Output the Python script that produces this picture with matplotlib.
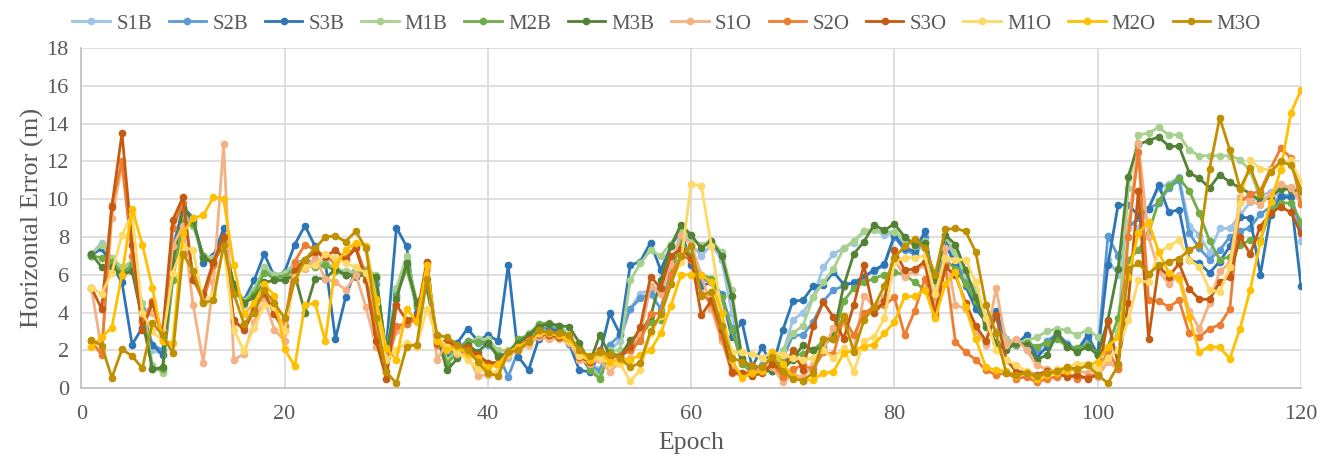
import numpy as np
import matplotlib
matplotlib.use("Agg")
import matplotlib.pyplot as plt

plt.rcParams['font.family'] = ['Liberation Serif', 'DejaVu Serif']

epochs = np.arange(1, 121)

s1b = [7.1, 7.7, 6.8, 6.2, 6.6, 4.0, 2.0, 1.8, 7.6, 9.3,
       8.6, 7.0, 6.9, 7.6, 5.3, 4.4, 5.0, 6.2, 5.9, 5.9,
       6.5, 6.6, 6.7, 6.6, 6.3, 6.1, 6.2, 6.2, 5.8, 1.9,
       5.2, 6.8, 4.4, 5.5, 2.8, 1.8, 2.0, 2.4, 2.6, 2.5,
       1.9, 1.6, 2.3, 2.8, 3.2, 3.3, 3.2, 2.6, 1.8, 1.3,
       1.0, 2.0, 2.5, 4.2, 5.0, 5.2, 5.4, 6.4, 8.3, 7.6,
       7.0, 7.6, 6.8, 4.0, 1.5, 1.1, 1.0, 0.9, 1.8, 3.6,
       4.0, 4.8, 6.4, 7.1, 7.4, 7.7, 8.3, 8.4, 8.1, 8.2,
       7.6, 7.0, 7.8, 4.4, 7.9, 7.0, 5.8, 4.8, 3.8, 3.7,
       2.4, 2.4, 2.3, 2.1, 2.5, 2.9, 2.4, 2.0, 2.6, 1.8,
       6.8, 6.0, 8.8, 8.5, 9.5, 10.6, 10.8, 11.2, 8.6, 8.1,
       7.15, 8.45, 8.45, 9.15, 9.85, 10.15, 10.4, 10.15, 10.1, 7.8]

s2b = [7.0, 7.4, 6.6, 6.0, 6.4, 4.2, 2.3, 2.0, 7.0, 9.5,
       8.8, 7.0, 6.8, 8.0, 5.3, 4.6, 5.2, 6.3, 6.0, 6.0,
       6.6, 6.8, 6.6, 6.6, 6.3, 6.0, 6.2, 6.1, 5.5, 2.0,
       5.0, 6.5, 4.3, 5.3, 2.6, 1.7, 2.1, 2.5, 2.4, 2.3,
       1.8, 0.6, 2.0, 2.7, 3.1, 3.2, 3.1, 2.5, 1.6, 1.2,
       0.9, 2.3, 2.8, 4.2, 4.75, 5.0, 4.2, 6.2, 7.8, 6.7,
       5.8, 5.6, 5.0, 3.2, 1.4, 1.0, 1.2, 0.9, 1.5, 2.8,
       2.8, 3.5, 4.6, 5.2, 5.4, 5.6, 5.9, 6.2, 6.5, 8.0,
       7.3, 7.1, 8.0, 4.9, 7.5, 6.8, 5.6, 4.5, 3.4, 3.9,
       2.5, 2.3, 2.4, 2.0, 2.5, 2.8, 2.3, 2.0, 2.7, 1.8,
       8.05, 7.0, 8.5, 9.0, 9.5, 9.8, 10.6, 11.0, 8.2, 7.4,
       6.8, 7.3, 8.0, 8.3, 8.5, 9.2, 9.6, 10.2, 10.2, 8.4]

s3b = [7.1, 7.4, 6.5, 5.6, 2.3, 3.2, 2.3, 1.75, 7.3, 9.6,
       9.0, 6.6, 7.0, 8.45, 5.2, 4.65, 5.7, 7.1, 5.9, 6.15,
       7.6, 8.6, 7.5, 6.7, 2.6, 4.8, 6.3, 6.0, 4.5, 2.1,
       8.5, 7.5, 4.0, 5.5, 2.5, 1.75, 2.4, 3.15, 2.5, 2.8,
       2.5, 6.5, 1.65, 0.95, 2.6, 3.1, 3.0, 2.35, 0.95, 0.86,
       1.75, 3.95, 2.85, 6.5, 6.7, 7.7, 6.25, 7.5, 8.4, 6.5,
       5.4, 5.6, 4.9, 2.7, 3.5, 1.1, 2.2, 1.1, 3.05, 4.6,
       4.65, 5.4, 5.45, 6.15, 5.5, 5.55, 5.9, 6.25, 6.55, 8.1,
       7.4, 7.25, 8.3, 5.0, 7.65, 6.5, 5.4, 4.2, 3.5, 4.1,
       2.6, 2.35, 2.8, 1.6, 2.2, 2.9, 2.3, 2.0, 2.8, 1.75,
       6.5, 9.7, 9.7, 9.15, 9.5, 10.75, 9.3, 9.45, 6.8, 6.6,
       6.1, 6.7, 7.5, 9.05, 9.0, 6.0, 9.15, 10.1, 10.1, 5.4]

m1b = [7.1, 7.6, 6.9, 6.4, 6.7, 4.5, 1.2, 0.8, 6.0, 9.0,
       8.6, 7.0, 6.9, 7.8, 5.5, 4.6, 5.2, 6.4, 6.0, 6.1,
       6.6, 6.7, 6.5, 6.7, 6.3, 6.2, 6.1, 6.3, 6.0, 1.8,
       5.3, 7.0, 4.6, 5.2, 2.8, 1.5, 2.0, 2.4, 2.6, 2.6,
       2.0, 2.0, 2.4, 2.9, 3.3, 3.4, 3.3, 2.8, 2.0, 1.2,
       0.6, 2.0, 2.0, 5.7, 6.6, 7.3, 7.0, 7.65, 8.5, 7.9,
       7.6, 7.8, 7.2, 5.2, 1.5, 1.0, 0.9, 1.1, 2.0, 2.9,
       3.3, 4.8, 5.6, 6.3, 7.4, 7.8, 8.3, 8.35, 8.3, 8.25,
       7.9, 7.5, 7.8, 5.5, 8.0, 7.2, 6.0, 5.2, 3.8, 3.0,
       2.6, 2.4, 2.5, 2.7, 3.0, 3.15, 3.05, 2.8, 3.1, 2.7,
       2.0, 3.0, 10.6, 13.4, 13.5, 13.8, 13.4, 13.4, 12.6, 12.3,
       12.3, 12.3, 12.3, 12.1, 11.5, 10.0, 10.15, 10.7, 10.65, 9.9]

m2b = [7.0, 6.9, 6.7, 6.1, 6.5, 4.0, 1.0, 1.0, 5.7, 8.8,
       8.7, 7.0, 6.6, 7.9, 5.4, 4.5, 5.0, 6.1, 5.8, 5.9,
       6.3, 6.5, 6.4, 6.5, 6.2, 6.0, 6.0, 6.2, 5.9, 1.7,
       4.9, 6.3, 4.4, 5.3, 2.7, 1.3, 1.9, 2.5, 2.45, 2.4,
       1.75, 1.8, 2.6, 2.8, 3.4, 3.45, 3.3, 2.6, 1.8, 0.95,
       0.5, 1.9, 1.7, 2.0, 2.7, 3.5, 3.6, 6.0, 7.8, 7.0,
       6.0, 5.8, 4.8, 3.1, 1.3, 0.8, 0.9, 1.0, 1.5, 1.7,
       1.8, 2.0, 2.5, 2.6, 4.6, 5.3, 5.6, 5.8, 6.0, 6.15,
       6.0, 5.6, 5.2, 4.6, 6.8, 6.3, 5.5, 4.6, 3.4, 2.4,
       2.2, 2.3, 2.4, 2.2, 2.4, 2.6, 2.2, 2.1, 2.3, 1.8,
       2.2, 3.7, 6.8, 7.3, 8.2, 9.9, 10.7, 11.1, 10.45, 9.25,
       7.8, 6.8, 6.95, 7.55, 7.85, 7.85, 9.4, 9.8, 9.8, 8.8]

m3b = [7.1, 6.4, 6.4, 6.0, 6.2, 3.6, 1.0, 1.1, 6.6, 9.5,
       8.9, 6.9, 6.6, 7.7, 5.5, 4.5, 4.8, 5.6, 5.7, 5.7,
       6.0, 4.0, 5.8, 5.8, 6.3, 6.0, 5.9, 6.0, 5.9, 1.8,
       4.7, 6.6, 4.5, 5.4, 2.7, 0.95, 1.57, 2.3, 1.9, 2.4,
       1.65, 1.9, 2.4, 2.8, 3.25, 3.4, 3.3, 3.25, 2.4, 1.3,
       2.8, 1.75, 1.65, 2.55, 2.9, 3.8, 5.7, 7.5, 8.65, 8.1,
       7.4, 7.8, 7.0, 4.9, 1.6, 1.0, 0.9, 0.9, 1.0, 1.5,
       2.3, 2.0, 2.2, 2.8, 5.4, 7.1, 7.75, 8.65, 8.35, 8.7,
       8.0, 7.6, 7.7, 5.7, 8.1, 7.6, 6.25, 4.8, 3.25, 2.4,
       2.0, 2.4, 2.3, 1.5, 1.75, 2.9, 2.2, 1.9, 2.2, 1.75,
       3.6, 6.3, 11.2, 12.9, 13.1, 13.3, 12.8, 12.8, 11.4, 11.1,
       10.6, 11.3, 10.9, 10.6, 10.3, 9.9, 10.1, 10.55, 10.5, 10.45]

s1o = [5.3, 2.0, 9.0, 11.8, 7.6, 3.8, 4.0, 3.0, 7.5, 8.6,
       4.4, 1.35, 5.6, 12.9, 1.5, 1.8, 3.5, 4.7, 3.1, 2.5,
       6.4, 6.3, 6.9, 5.8, 5.6, 5.2, 6.0, 4.3, 2.2, 1.5,
       3.0, 3.4, 3.6, 6.3, 1.5, 2.4, 1.8, 1.8, 0.65, 0.7,
       0.8, 1.7, 2.0, 2.3, 2.7, 2.6, 2.6, 2.4, 1.5, 1.3,
       1.5, 0.86, 1.4, 1.6, 2.8, 5.4, 5.0, 6.5, 8.1, 7.6,
       6.0, 4.2, 2.5, 1.0, 0.8, 0.9, 1.0, 1.1, 0.33, 0.7,
       0.6, 1.2, 2.0, 3.2, 3.5, 2.0, 4.9, 4.3, 4.8, 6.8,
       5.9, 6.2, 6.5, 4.2, 7.4, 4.4, 4.2, 3.0, 2.3, 5.3,
       2.3, 2.6, 2.0, 1.2, 1.0, 0.9, 1.1, 0.9, 0.8, 0.6,
       1.4, 1.0, 8.5, 12.95, 8.0, 6.2, 5.5, 6.0, 4.1, 3.15,
       4.5, 6.2, 6.6, 10.1, 9.9, 9.7, 10.3, 10.8, 10.6, 9.75]

s2o = [2.5, 1.75, 9.7, 12.0, 7.0, 3.5, 4.6, 2.5, 8.5, 9.8,
       5.8, 4.6, 6.5, 8.0, 3.5, 3.2, 4.3, 5.0, 4.0, 3.3,
       6.7, 7.6, 7.3, 7.0, 6.6, 6.9, 7.5, 6.0, 2.9, 0.9,
       3.3, 3.4, 3.7, 6.6, 2.3, 2.3, 2.1, 2.0, 1.6, 1.2,
       1.2, 1.8, 2.1, 2.5, 2.8, 2.8, 2.7, 2.5, 1.7, 1.6,
       1.8, 1.6, 1.7, 2.0, 2.5, 3.9, 4.0, 6.0, 7.0, 6.8,
       5.0, 4.5, 2.7, 0.8, 0.7, 0.9, 0.9, 1.3, 0.6, 1.0,
       1.2, 1.0, 1.9, 1.8, 3.7, 2.8, 3.95, 4.3, 4.4, 4.8,
       2.8, 4.1, 5.8, 4.0, 6.5, 2.45, 1.9, 1.5, 0.95, 0.7,
       0.8, 0.5, 0.6, 0.3, 0.5, 0.6, 0.7, 0.5, 0.6, 0.7,
       2.0, 1.0, 8.0, 12.5, 4.65, 4.6, 4.3, 4.65, 2.9, 2.7,
       3.15, 3.35, 4.2, 9.85, 10.25, 10.45, 11.6, 12.7, 12.2, 9.75]

s3o = [5.3, 4.2, 9.6, 13.5, 7.6, 3.1, 4.5, 2.9, 8.9, 10.1,
       5.7, 5.0, 6.7, 8.0, 3.6, 3.07, 4.1, 5.1, 3.9, 3.0,
       6.2, 6.8, 7.2, 6.95, 7.3, 6.8, 7.4, 5.7, 2.5, 0.5,
       4.4, 3.6, 3.8, 6.7, 2.4, 2.5, 2.2, 2.2, 1.75, 1.35,
       1.35, 1.9, 2.2, 2.6, 2.9, 2.8, 2.7, 2.65, 1.65, 1.4,
       2.0, 1.75, 1.65, 2.2, 3.25, 5.9, 5.3, 7.0, 7.35, 6.9,
       3.85, 4.65, 3.1, 0.86, 0.78, 0.63, 0.8, 1.25, 0.95, 2.0,
       0.95, 3.3, 4.55, 3.75, 2.6, 4.4, 6.5, 3.95, 4.6, 7.3,
       6.25, 6.3, 6.7, 3.8, 6.4, 6.0, 4.5, 3.3, 2.5, 3.85,
       1.5, 0.86, 0.86, 0.7, 0.9, 0.8, 0.6, 0.7, 0.5, 0.7,
       3.55, 1.3, 4.5, 10.45, 2.6, 6.45, 5.9, 6.6, 5.25, 4.7,
       4.7, 5.6, 5.9, 8.0, 7.1, 8.55, 9.25, 9.6, 9.3, 8.2]

m1o = [5.3, 5.0, 6.1, 8.1, 9.2, 4.0, 3.0, 2.5, 6.1, 7.5,
       7.3, 4.5, 5.0, 7.5, 3.1, 1.96, 3.2, 4.4, 4.3, 3.0,
       5.9, 6.4, 6.5, 7.1, 6.9, 6.6, 6.4, 6.1, 4.5, 1.5,
       2.0, 2.4, 2.2, 4.2, 2.7, 2.2, 1.9, 1.5, 1.0, 0.8,
       0.9, 1.8, 2.1, 2.4, 2.9, 2.9, 2.8, 2.5, 1.7, 1.5,
       1.6, 1.3, 1.3, 0.37, 0.95, 2.9, 3.8, 5.5, 6.7, 10.8,
       10.7, 7.5, 4.0, 1.9, 1.9, 1.8, 1.6, 1.9, 1.75, 1.6,
       1.5, 1.6, 2.0, 1.6, 2.1, 0.86, 2.5, 2.7, 3.7, 6.7,
       6.9, 6.9, 7.0, 5.0, 6.9, 6.8, 6.8, 5.6, 3.7, 2.0,
       1.5, 1.2, 0.9, 0.6, 0.8, 1.0, 1.1, 1.3, 1.3, 1.0,
       1.6, 2.0, 3.6, 5.7, 5.6, 7.2, 7.5, 7.85, 6.8, 6.4,
       5.2, 5.1, 6.4, 9.8, 12.1, 11.6, 11.55, 11.8, 12.05, 10.9]

m2o = [2.15, 2.7, 3.2, 6.0, 9.5, 7.6, 5.3, 2.5, 2.4, 8.2,
       9.0, 9.15, 10.1, 10.0, 6.5, 3.9, 4.5, 5.5, 4.9, 2.06,
       1.16, 4.4, 4.5, 2.5, 6.5, 7.3, 7.7, 7.5, 4.7, 2.1,
       1.5, 4.2, 3.5, 6.5, 2.5, 2.0, 2.2, 1.8, 1.57, 1.1,
       1.25, 1.9, 2.2, 2.5, 3.0, 2.9, 2.8, 2.6, 2.0, 1.5,
       1.9, 1.4, 1.5, 1.5, 1.75, 2.0, 2.9, 4.35, 6.0, 6.0,
       6.0, 5.6, 4.0, 1.5, 0.55, 0.8, 0.9, 1.9, 1.3, 0.6,
       0.4, 0.45, 0.78, 0.86, 1.85, 2.0, 2.2, 2.3, 2.9, 3.5,
       4.85, 4.85, 5.2, 3.7, 5.5, 6.15, 4.3, 2.6, 1.1, 0.95,
       0.9, 0.65, 0.8, 0.5, 0.7, 0.8, 0.9, 1.0, 1.2, 1.4,
       2.2, 2.7, 5.9, 8.2, 8.8, 7.2, 6.1, 5.8, 3.75, 1.9,
       2.2, 2.15, 1.55, 3.15, 5.2, 7.75, 9.85, 11.55, 14.55, 15.8]

m3o = [2.55, 2.25, 0.55, 2.05, 1.7, 1.05, 3.45, 2.8, 1.85, 7.1,
       6.2, 4.5, 4.65, 7.6, 5.0, 3.4, 4.0, 5.2, 4.5, 3.7,
       5.7, 6.8, 7.4, 8.0, 8.05, 7.75, 8.3, 7.4, 3.7, 0.86,
       0.25, 2.2, 2.3, 5.8, 2.8, 2.7, 2.3, 2.0, 1.4, 0.78,
       0.65, 1.9, 2.0, 2.45, 3.05, 2.95, 2.9, 2.8, 2.0, 1.7,
       1.9, 1.8, 1.6, 1.1, 1.35, 3.0, 3.9, 5.5, 7.0, 7.5,
       4.9, 5.1, 3.3, 1.6, 1.4, 1.2, 1.1, 1.65, 0.86, 0.5,
       0.4, 0.8, 2.6, 2.6, 3.8, 1.9, 3.6, 4.3, 5.4, 6.9,
       7.5, 7.9, 7.4, 6.0, 8.4, 8.45, 8.3, 7.2, 4.4, 2.9,
       0.78, 0.7, 0.78, 0.63, 0.8, 0.9, 1.1, 1.0, 1.2, 0.7,
       0.25, 1.2, 6.3, 6.6, 6.05, 6.5, 6.7, 6.85, 7.3, 7.6,
       11.6, 14.3, 12.6, 10.55, 11.65, 10.3, 11.45, 12.0, 11.8, 10.5]

labels = ["S1B", "S2B", "S3B", "M1B", "M2B", "M3B",
          "S1O", "S2O", "S3O", "M1O", "M2O", "M3O"]
series = [s1b, s2b, s3b, m1b, m2b, m3b, s1o, s2o, s3o, m1o, m2o, m3o]
colors = ["#9DC3E6", "#5B9BD5", "#2E75B6", "#A9D18E", "#70AD47", "#548235",
          "#F4B183", "#ED7D31", "#C55A11", "#FFD966", "#FFC000", "#BF9000"]

fig = plt.figure(figsize=(13.33, 4.62), dpi=100)
ax = fig.add_axes([0.061, 0.160, 0.915, 0.736])

for vals, lab, col in zip(series, labels, colors):
    ax.plot(epochs, vals, color=col, lw=2, marker='o', ms=4.5, label=lab)

ax.set_xlim(0, 120)
ax.set_ylim(0, 18)
ax.set_xticks(range(0, 121, 20))
ax.set_yticks(range(0, 19, 2))
ax.grid(True, color="#D9D9D9", lw=1.2)
ax.set_axisbelow(True)
for side in ["top", "right"]:
    ax.spines[side].set_visible(False)
for side in ["left", "bottom"]:
    ax.spines[side].set_color("#BFBFBF")
    ax.spines[side].set_linewidth(1.2)
ax.tick_params(length=0, labelsize=16, colors="#595959")
ax.tick_params(axis='y', pad=9)
ax.tick_params(axis='x', pad=12)
ax.set_xlabel("Epoch", fontsize=18.5, color="#595959", labelpad=6)
ax.set_ylabel("Horizontal Error (m)", fontsize=19, color="#595959", labelpad=2)

fig.legend(loc="upper center", bbox_to_anchor=(0.5, 1.01), ncol=12, frameon=False,
           fontsize=15, handlelength=1.8, handletextpad=0.3, columnspacing=0.8,
           labelcolor="#595959")

fig.savefig("out.png", dpi=100)
